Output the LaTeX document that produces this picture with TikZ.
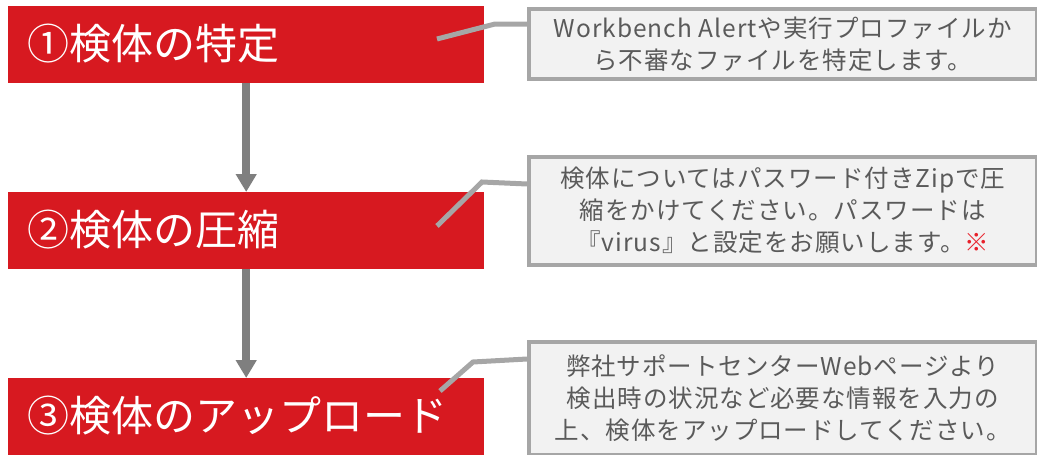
\documentclass[tikz,border=0pt]{standalone}
\usepackage{fontspec}
\setmainfont{Noto Sans CJK JP}
\newfontfamily\callfont[LetterSpace=4]{Noto Sans CJK JP}
\usetikzlibrary{arrows.meta}
\definecolor{boxred}{HTML}{D71920}
\definecolor{arrowgray}{HTML}{7F7F7F}
\definecolor{leadgray}{HTML}{A6A6A6}
\definecolor{callfill}{HTML}{F2F2F2}
\definecolor{calltext}{HTML}{5A5A5A}
\definecolor{markred}{HTML}{E8202A}
\tikzset{
  stepbox/.style={fill=boxred, draw=none, inner sep=0pt, minimum width=476pt, minimum height=77pt, anchor=north west},
  steplabel/.style={text=white, font=\fontsize{42}{50}\selectfont, anchor=west, inner sep=0pt},
  callout/.style={fill=callfill, draw=leadgray, line width=3.5pt, inner sep=0pt, anchor=north west, align=center, text=calltext, font=\callfont\fontsize{24.5}{32}\selectfont},
  flow/.style={draw=arrowgray, line width=8pt, -{Triangle[width=20pt,length=18pt]}},
  leader/.style={draw=leadgray, line width=5pt}
}
\begin{document}
\begin{tikzpicture}[x=1pt,y=-1pt]
\useasboundingbox (0,0) rectangle (1037,455);
% step boxes
\node[stepbox] (b1) at (8,6) {};
\node[stepbox] (b2) at (8,192) {};
\node[stepbox] (b3) at (8,378) {};
\node[steplabel] (t1) at (27,44) {①検体の特定};
\node[steplabel] (t2) at (27,230) {②検体の圧縮};
\node[steplabel] (t3) at (27,416) {③検体のアップロード};
% flow arrows
\draw[flow] (b1.south) -- (b2.north);
\draw[flow] (b2.south) -- (b3.north);
% callouts
\node[callout, minimum width=508pt, minimum height=70pt] (c1) at (527,7) {Workbench Alertや実行プロファイルか\\ら不審なファイルを特定します。};
\node[callout, minimum width=508pt, minimum height=108pt] (c2) at (527,155) {検体についてはパスワード付きZipで圧\\縮をかけてください。パスワードは\\『virus』と設定をお願いします。\textcolor{markred}{※}};
\node[callout, minimum width=508pt, minimum height=113pt] (c3) at (527,340) {弊社サポートセンターWebページより\\検出時の状況など必要な情報を入力の\\上、検体をアップロードしてください。};
% leaders
\coordinate (s1) at (437,39);
\coordinate (k1) at (495,24);
\coordinate (s2) at (437,226);
\coordinate (k2) at (482,182);
\coordinate (s3) at (440,391);
\coordinate (k3) at (473,362);
\draw[leader] (s1) -- (k1) -- (k1 -| c1.west);
\draw[leader] (s2) -- (k2) -- ([yshift=-2pt]k2 -| c2.west);
\draw[leader] (s3) -- (k3) -- ([yshift=3pt]k3 -| c3.west);
\end{tikzpicture}
\end{document}
